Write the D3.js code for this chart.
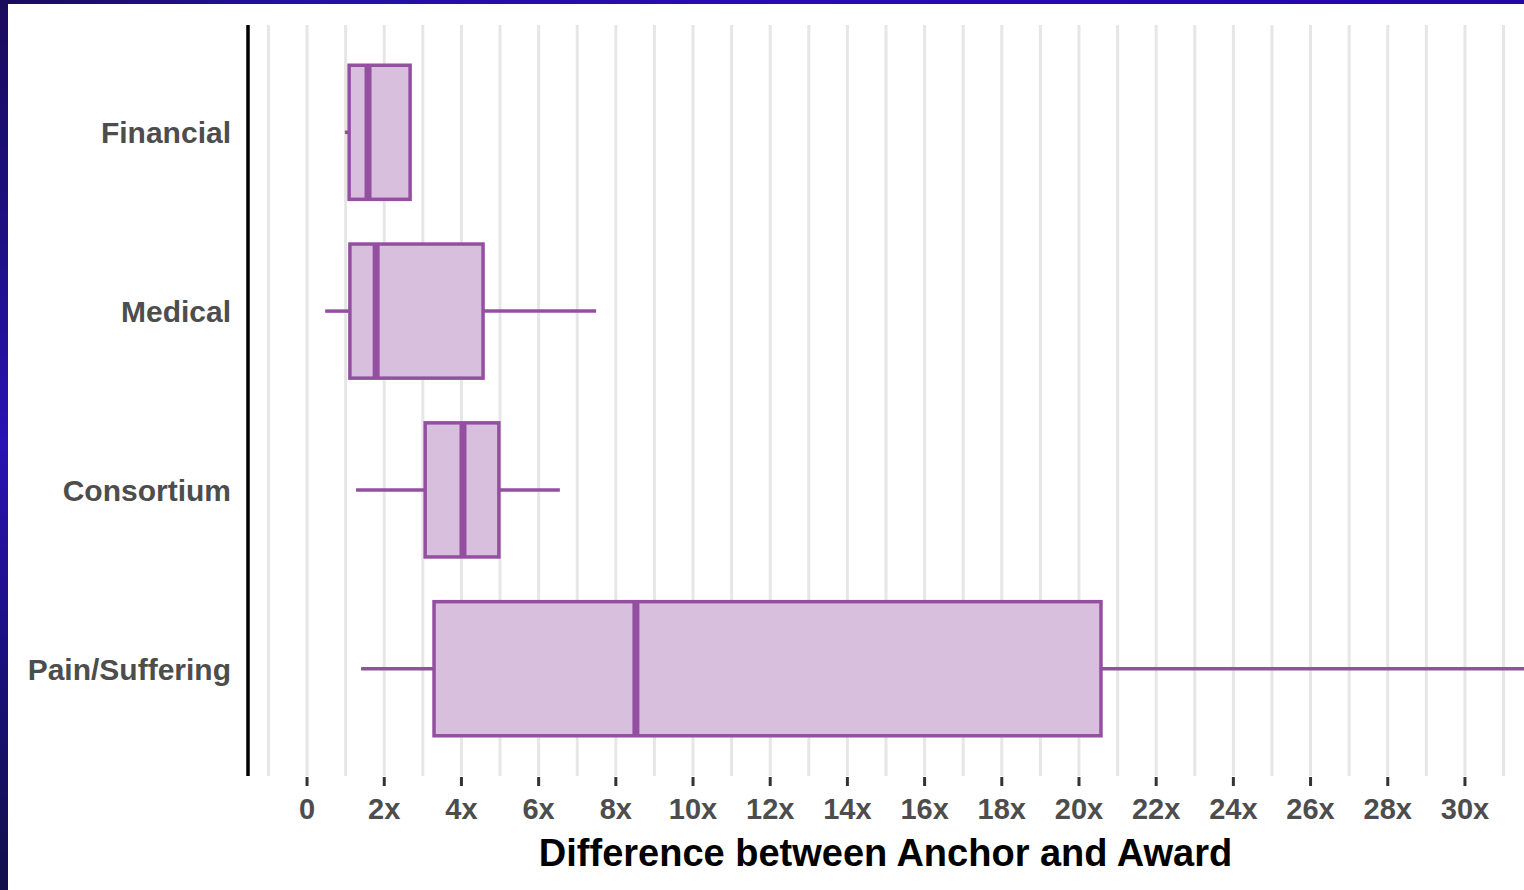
<!DOCTYPE html>
<html>
<head>
<meta charset="utf-8">
<script src="https://cdn.jsdelivr.net/npm/d3@7"></script>
<style>
  html, body { margin: 0; padding: 0; background: #ffffff; }
  svg { display: block; }
</style>
</head>
<body>
<script>
// ---- data ----
const categories = ["Financial", "Medical", "Consortium", "Pain/Suffering"];
const whiskerLow  = [0.98, 0.47, 1.27, 1.40];
const q1Values    = [1.09, 1.11, 3.06, 3.29];
const medians     = [1.58, 1.79, 4.04, 8.52];
const q3Values    = [2.67, 4.56, 4.97, 20.57];
const whiskerHigh = [2.67, 7.49, 6.55, 40.0];
const tickValues  = [0, 2, 4, 6, 8, 10, 12, 14, 16, 18, 20, 22, 24, 26, 28, 30];
const tickLabels  = ["0", "2x", "4x", "6x", "8x", "10x", "12x", "14x", "16x", "18x", "20x", "22x", "24x", "26x", "28x", "30x"];
const minorValues = [-1, 1, 3, 5, 7, 9, 11, 13, 15, 17, 19, 21, 23, 25, 27, 29, 31];
const xTitle = "Difference between Anchor and Award";

const W = 1524, H = 890;
const panel = { left: 248, right: 1524, top: 25, bottom: 776 };
const stroke = "#944fa1", fill = "#d8bfdd";

const svg = d3.select("body").append("svg").attr("width", W).attr("height", H);
const defs = svg.append("defs");

// background frame (blue texture approximation)
const gv = defs.append("linearGradient").attr("id", "gv").attr("x1", 0).attr("y1", 0).attr("x2", 0).attr("y2", 1);
[[0, "#1a0b5c"], [0.25, "#1f0f80"], [0.5, "#2a12b4"], [0.75, "#1a107a"], [1, "#12104a"]]
  .forEach(([o, c]) => gv.append("stop").attr("offset", o).attr("stop-color", c));
const gh = defs.append("linearGradient").attr("id", "gh").attr("x1", 0).attr("y1", 0).attr("x2", 1).attr("y2", 0);
[[0, "#1a0b5c"], [0.2, "#2410a0"], [0.5, "#2a0ab5"], [1, "#2506aa"]]
  .forEach(([o, c]) => gh.append("stop").attr("offset", o).attr("stop-color", c));
svg.append("rect").attr("x", 0).attr("y", 0).attr("width", 8).attr("height", H).attr("fill", "url(#gv)");
svg.append("rect").attr("x", 0).attr("y", 0).attr("width", W).attr("height", 4).attr("fill", "url(#gh)");
svg.append("rect").attr("x", 8).attr("y", 4).attr("width", W - 8).attr("height", H - 4).attr("fill", "#ffffff");

// scales
const x = d3.scaleLinear().domain([-1.53, 31.53]).range([panel.left, panel.right]);
// ggplot-like discrete scale: expansion 0.6 of unit step on each side
const y = d3.scalePoint().domain(categories)
  .range([panel.top, panel.bottom]).padding(0.6);
const step = y.step();
const yc = c => y(c);
const boxH = 0.75 * step;

const clip = defs.append("clipPath").attr("id", "clip");
clip.append("rect").attr("x", panel.left).attr("y", panel.top).attr("width", panel.right - panel.left).attr("height", panel.bottom - panel.top);

// gridlines
const grid = svg.append("g");
grid.selectAll("line.minor").data(minorValues).join("line").attr("class", "minor")
  .attr("x1", d => x(d)).attr("x2", d => x(d)).attr("y1", panel.top).attr("y2", panel.bottom)
  .attr("stroke", "#e6e6e6").attr("stroke-width", 3);
grid.selectAll("line.major").data(tickValues).join("line").attr("class", "major")
  .attr("x1", d => x(d)).attr("x2", d => x(d)).attr("y1", panel.top).attr("y2", panel.bottom)
  .attr("stroke", "#e6e6e6").attr("stroke-width", 3);

// boxes
const data = categories.map((c, i) => ({ c, lo: whiskerLow[i], q1: q1Values[i], med: medians[i], q3: q3Values[i], hi: whiskerHigh[i] }));
const g = svg.append("g").attr("clip-path", "url(#clip)");
const bg = g.selectAll("g.box").data(data).join("g").attr("class", "box");
bg.append("line").attr("x1", d => x(d.lo)).attr("x2", d => x(d.q1)).attr("y1", d => yc(d.c)).attr("y2", d => yc(d.c))
  .attr("stroke", stroke).attr("stroke-width", 3.5);
bg.append("line").attr("x1", d => x(d.q3)).attr("x2", d => x(d.hi)).attr("y1", d => yc(d.c)).attr("y2", d => yc(d.c))
  .attr("stroke", stroke).attr("stroke-width", 3.5);
bg.append("rect").attr("x", d => x(d.q1)).attr("width", d => x(d.q3) - x(d.q1))
  .attr("y", d => yc(d.c) - boxH / 2).attr("height", boxH)
  .attr("fill", fill).attr("stroke", stroke).attr("stroke-width", 3.5);
bg.append("line").attr("x1", d => x(d.med)).attr("x2", d => x(d.med))
  .attr("y1", d => yc(d.c) - boxH / 2).attr("y2", d => yc(d.c) + boxH / 2)
  .attr("stroke", stroke).attr("stroke-width", 7);

// y axis line
svg.append("line").attr("x1", panel.left).attr("x2", panel.left).attr("y1", panel.top).attr("y2", panel.bottom)
  .attr("stroke", "#000").attr("stroke-width", 3.5);

// y labels
svg.append("g").selectAll("text").data(categories).join("text")
  .attr("x", 231).attr("y", d => yc(d)).attr("dy", "0.36em")
  .attr("text-anchor", "end")
  .attr("font-family", "'Liberation Sans', Arial, sans-serif").attr("font-weight", "bold")
  .attr("font-size", 30).attr("fill", "#4d4d4d")
  .text(d => d);

// x axis ticks + labels
const xa = svg.append("g");
xa.selectAll("line").data(tickValues).join("line")
  .attr("x1", d => x(d)).attr("x2", d => x(d)).attr("y1", 777).attr("y2", 786)
  .attr("stroke", "#333333").attr("stroke-width", 3);
xa.selectAll("text").data(tickValues).join("text")
  .attr("x", d => x(d)).attr("y", 819)
  .attr("text-anchor", "middle")
  .attr("font-family", "'Liberation Sans', Arial, sans-serif").attr("font-weight", "bold")
  .attr("font-size", 29).attr("fill", "#4d4d4d")
  .text((d, i) => tickLabels[i]);

// x title
svg.append("text").attr("x", (540 + 1231) / 2).attr("y", 866)
  .attr("text-anchor", "middle")
  .attr("font-family", "'Liberation Sans', Arial, sans-serif").attr("font-weight", "bold")
  .attr("font-size", 38).attr("fill", "#000000")
  .text(xTitle);
</script>
</body>
</html>
